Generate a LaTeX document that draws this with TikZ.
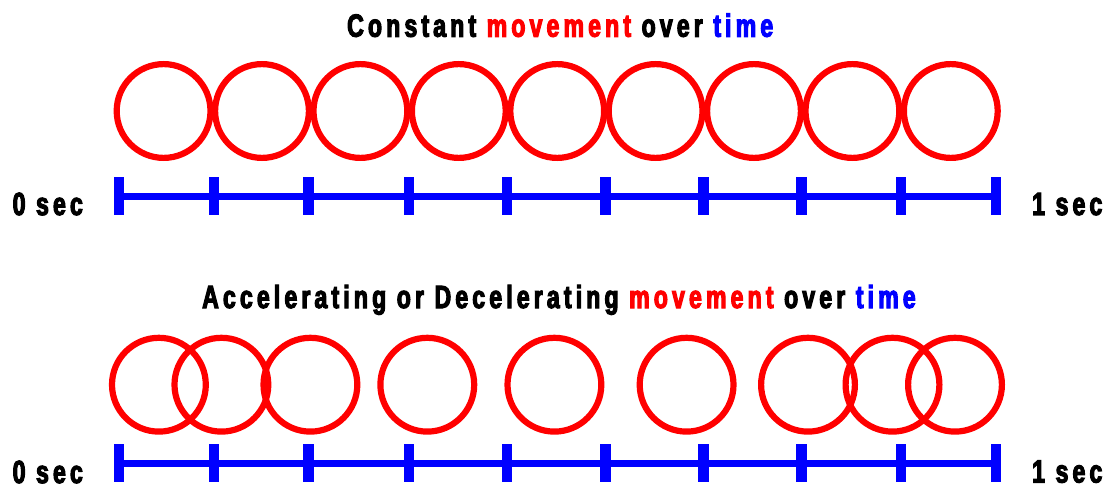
\documentclass[tikz,border=0pt]{standalone}
\usepackage{fontspec}
\usetikzlibrary{shapes.geometric}
\newfontfamily\tfont{Liberation Sans}[FakeStretch=0.72,LetterSpace=13,BoldFeatures={FakeBold=3.5}]
\definecolor{cred}{RGB}{255,0,0}
\definecolor{cblue}{RGB}{0,0,255}
\tikzset{
  ring/.style={circle,draw=cred,line width=6.2pt,minimum size=93.8pt,inner sep=0pt},
  tick/.style={rectangle,fill=cblue,minimum width=10.7pt,minimum height=38pt,inner sep=0pt},
  axis/.style={draw=cblue,line width=7.5pt},
  lbl/.style={anchor=base west,inner sep=0pt,font=\tfont\bfseries\fontsize{32}{36}\selectfont}
}
\begin{document}
\begin{tikzpicture}[x=1pt,y=-1pt]
\useasboundingbox (0,0) rectangle (1118,486);
% titles
\node[lbl] (title1) at (347,36.7) {Constant \textcolor{cred}{movement} over \textcolor{cblue}{time}};
\node[lbl] (title2) at (202,308) {Accelerating or Decelerating \textcolor{cred}{movement} over \textcolor{cblue}{time}};
% top circles
\foreach \i/\x in {1/163.6,2/262,3/360.4,4/458.8,5/557.2,6/655.6,7/754,8/852.4,9/950.8}
  \node[ring] (a\i) at (\x,111) {};
% bottom circles
\foreach \i/\x in {1/158.9,2/221.4,3/310.4,4/427.3,5/554.4,6/686.6,7/808,8/892.5,9/955}
  \node[ring] (b\i) at (\x,384.7) {};
% top axis
\foreach \i/\x in {1/118.9,2/213.9,3/308.2,4/408.9,5/507.1,6/605.5,7/703.4,8/801.6,9/900.9,10/995.9}
  \coordinate (ta\i) at (\x,196.5);
\draw[axis] (ta1) -- (ta10);
\foreach \i in {1,...,10} \node[tick] (tk\i) at (ta\i) {};
% bottom axis
\foreach \i/\x in {1/118.9,2/213.9,3/308.2,4/408.9,5/507.1,6/605.5,7/703.4,8/801.6,9/900.9,10/995.9}
  \coordinate (ba\i) at (\x,463.4);
\draw[axis] (ba1) -- (ba10);
\foreach \i in {1,...,10} \node[tick] (bk\i) at (ba\i) {};
% labels
\node[lbl] (t0) at (12.5,215) {0 sec};
\node[lbl] (t1) at (1032,215) {1 sec};
\node[lbl] (b0) at (12.5,483) {0 sec};
\node[lbl] (b1) at (1032,482.5) {1 sec};
\end{tikzpicture}
\end{document}
